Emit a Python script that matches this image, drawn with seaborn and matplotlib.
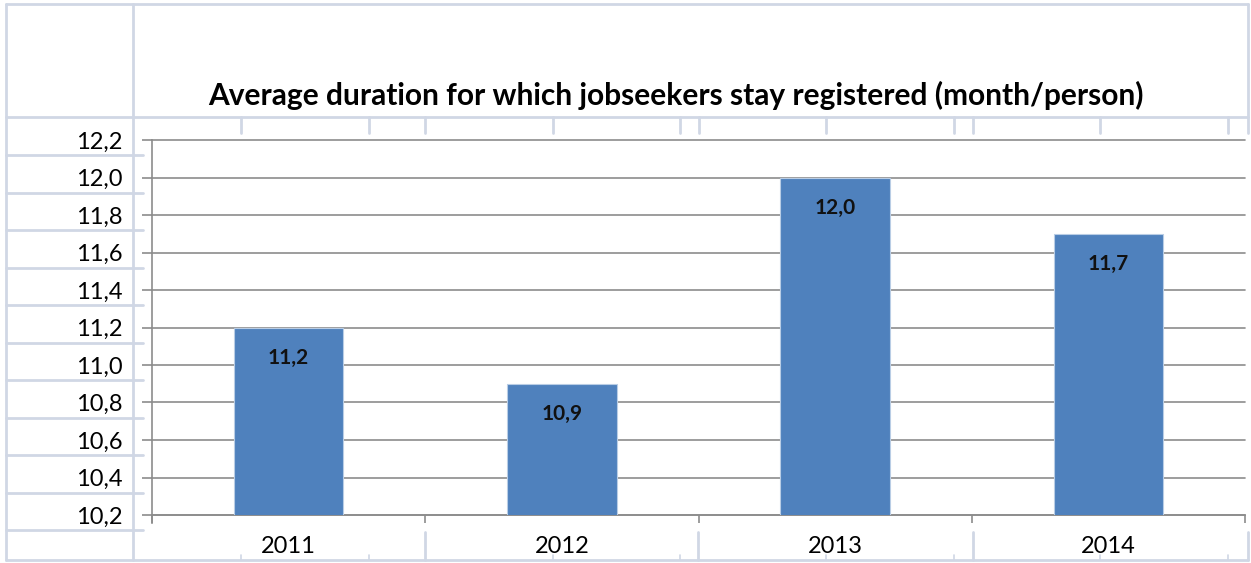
import matplotlib
matplotlib.use("Agg")
import matplotlib.pyplot as plt
from matplotlib.lines import Line2D
import seaborn as sns
import pandas as pd

# Data
years = ["2011", "2012", "2013", "2014"]
durations = [11.2, 10.9, 12.0, 11.7]
y_ticks = [10.2, 10.4, 10.6, 10.8, 11.0, 11.2, 11.4, 11.6, 11.8, 12.0, 12.2]
title = "Average duration for which jobseekers stay registered (month/person)"

W, H = 1251, 563
sns.set_theme(style="white")
plt.rcParams["font.family"] = ["Lato", "DejaVu Sans"]

fig = plt.figure(figsize=(W / 100, H / 100), dpi=100)
fig.patch.set_facecolor("white")


def fx(x):
    return x / W


def fy(y):
    return 1 - y / H


# Plot area in pixel geometry
left, right, top, bottom = 152, 1245, 140, 515
ax = fig.add_axes([fx(left), fy(bottom), fx(right) - fx(left), fy(top) - fy(bottom)])

df = pd.DataFrame({"year": years, "duration": durations})
sns.barplot(data=df, x="year", y="duration", color="#4F81BD", saturation=1,
            width=0.4, edgecolor="#B9CDE5", linewidth=0.8, ax=ax, zorder=3)

ax.set_ylim(y_ticks[0], y_ticks[-1])
ax.set_xlim(-0.5, len(years) - 0.5)

grid_col = "#8C8C8C"
for v in y_ticks:
    ax.axhline(v, color=grid_col, lw=1.2, zorder=1, clip_on=False)

for s in ["top", "right"]:
    ax.spines[s].set_visible(False)
ax.spines["left"].set_color(grid_col)
ax.spines["left"].set_linewidth(1.2)
ax.spines["bottom"].set_color(grid_col)
ax.spines["bottom"].set_linewidth(1.2)
ax.spines["left"].set_bounds(y_ticks[0] - 0.04, y_ticks[-1])

ax.set_yticks(y_ticks)
ax.set_yticklabels([f"{v:.1f}".replace(".", ",") for v in y_ticks], fontsize=17, color="black")
ax.tick_params(axis="y", direction="out", length=7, width=1.2, color=grid_col, pad=14, left=True)

ax.set_xticks(range(len(years)))
ax.set_xticklabels(years, fontsize=17, color="black")
ax.tick_params(axis="x", which="major", length=0, pad=15)
ax.set_xticks([i - 0.5 for i in range(len(years) + 1)], minor=True)
ax.tick_params(axis="x", which="minor", direction="out", length=6, width=1.2, color=grid_col, bottom=True)
ax.set_xlabel("")
ax.set_ylabel("")

# Value labels inside the bar ends
for i, v in enumerate(durations):
    ax.annotate(f"{v:.1f}".replace(".", ","), xy=(i, v), xytext=(0, -22),
                textcoords="offset points", ha="center", va="center",
                fontsize=15, fontweight="bold", color="#111111", zorder=5)

# Worksheet cell borders around the chart
cell_col = "#D0D7E5"


def hline(y, x0, x1, lw=2.0):
    fig.add_artist(Line2D([fx(x0), fx(x1)], [fy(y), fy(y)], color=cell_col, lw=lw, zorder=0))


def vline(x, y0, y1, lw=2.0):
    fig.add_artist(Line2D([fx(x), fx(x)], [fy(y0), fy(y1)], color=cell_col, lw=lw, zorder=0))


hline(4, 6, 1248)
hline(117, 6, 1248)
hline(560, 6, 1248)
vline(6, 4, 560)
vline(133, 4, 560)
vline(1248, 4, 133)
vline(1248, 532, 560)
for y in [155, 193, 230, 268, 305, 343, 380, 418, 455, 493, 530]:
    hline(y, 6, 143)
for x in [241, 369, 425, 553, 680, 699, 826, 954, 973, 1100, 1228]:
    vline(x, 117, 133)
for x in [425, 698, 973]:
    vline(x, 532, 560)
for x in [241, 369, 553, 680, 826, 954, 1100, 1228]:
    vline(x, 555, 560, lw=1.2)

fig.text(fx(676), fy(95), title, ha="center", va="center",
         fontsize=21.5, fontweight="bold", color="black")

fig.savefig("out.png", dpi=100)
